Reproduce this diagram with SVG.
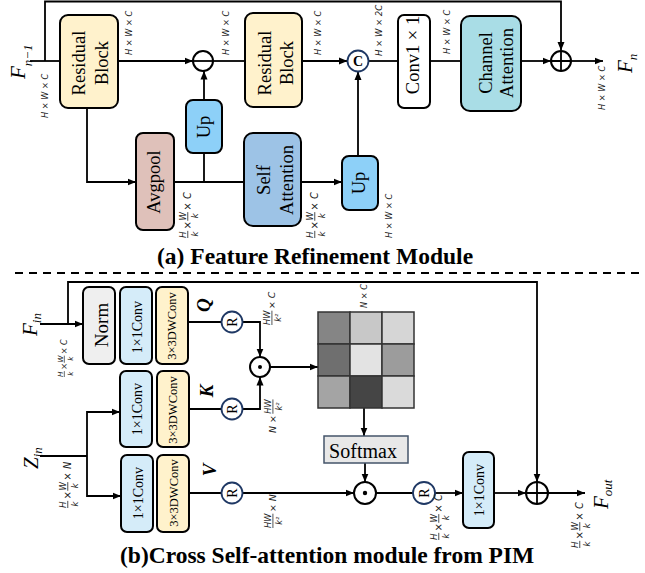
<svg xmlns="http://www.w3.org/2000/svg" width="645" height="573" viewBox="0 0 645 573">
<defs>
<style>
.box{stroke:#000;stroke-width:2}
.ln{fill:none;stroke:#000;stroke-width:1.8}
.arr{marker-end:url(#ah)}
.t{font-family:"Liberation Serif","Times New Roman",serif;fill:#000;text-anchor:middle}
.f18{font-size:18.5px}
.f14{font-size:14px}
.f12{font-size:12.5px}
.dim{font-family:"DejaVu Sans",sans-serif;font-style:italic;font-size:8.5px;fill:#222}
.dimA{font-size:8.2px}
.fs{font-size:7.5px}
.frac{fill:none;stroke:#222;stroke-width:0.7}
.math{font-family:"Liberation Serif","Times New Roman",serif;font-style:italic;font-size:21px;fill:#000}
.sub{font-size:13px}
.op{fill:#fff;stroke:#000;stroke-width:2}
.opb{fill:#fff;stroke:#1F3864;stroke-width:1.8}
.qkv{font-family:"Liberation Serif","Times New Roman",serif;font-style:italic;font-weight:bold;font-size:19px;text-anchor:middle}
.title{font-family:"Liberation Serif","Times New Roman",serif;font-weight:bold;font-size:23.5px}
.cell{stroke:#333;stroke-width:1.5}
</style>
<marker id="ah" markerWidth="10" markerHeight="8" refX="8.5" refY="4" orient="auto" markerUnits="userSpaceOnUse"><path d="M0,0.5L8.5,4L0,7.5z" fill="#000"/></marker>
</defs>
<rect width="645" height="573" fill="#fff"/>

<g id="connectors">
<path class="ln" d="M30,61H60"/>
<path class="ln arr" d="M45,61V1.5H561V50.5"/>
<path class="ln arr" d="M118,61H193"/>
<path class="ln" d="M213,61H245"/>
<path class="ln arr" d="M302,61H347.5"/>
<path class="ln" d="M368.5,61H398"/>
<path class="ln" d="M430,61H461"/>
<path class="ln arr" d="M521,61H551"/>
<path class="ln arr" d="M571,61H603"/>
<path class="ln arr" d="M87,108V182H136"/>
<path class="ln" d="M174,182H244"/>
<path class="ln" d="M204,182V153"/>
<path class="ln arr" d="M204,100V71"/>
<path class="ln arr" d="M301,182H342"/>
<path class="ln arr" d="M358,156V71.5"/>
<path d="M15,273H642" fill="none" stroke="#000" stroke-width="2" stroke-dasharray="8 6"/>
<path class="ln arr" d="M40,324H83"/>
<path class="ln arr" d="M68,324V282H537V482"/>
<path class="ln" d="M188,322H221.5"/>
<path class="ln arr" d="M242.5,322H260V357"/>
<path class="ln" d="M189,409H221.5"/>
<path class="ln arr" d="M242.5,409H260V377"/>
<path class="ln arr" d="M270,367H318"/>
<path class="ln arr" d="M364,408V436"/>
<path class="ln arr" d="M365,463V482"/>
<path class="ln" d="M189,493H221.5"/>
<path class="ln arr" d="M242.5,493H354"/>
<path class="ln" d="M376,493H413"/>
<path class="ln arr" d="M435,493H463"/>
<path class="ln arr" d="M494,493H526"/>
<path class="ln arr" d="M548,493H585"/>
<path class="ln" d="M40,456H87"/>
<path class="ln arr" d="M87,456V412H120"/>
<path class="ln arr" d="M87,456V496H121"/>
</g>

<!-- Top module -->
<g id="rb1"><rect class="box" x="60" y="15" width="58" height="93" rx="8" fill="#FFF2CC"/>
<text class="t f18" x="85" y="63" transform="rotate(-90 85 63)">Residual</text>
<text class="t f18" x="108" y="63" transform="rotate(-90 108 63)">Block</text></g>
<g id="sub"><circle class="op" cx="203" cy="61" r="10" stroke-width="1.5"/><path class="ln" d="M193,61H213" stroke-width="1.5"/></g>
<g id="up1"><rect class="box" x="186" y="100" width="36" height="53" rx="7" fill="#8DD0F8"/>
<text class="t f18" x="210" y="127" transform="rotate(-90 210 127)">Up</text></g>
<g id="avgpool"><rect class="box" x="136" y="133" width="38" height="97" rx="7" fill="#DFC1BA"/>
<text class="t f18" x="160" y="182" transform="rotate(-90 160 182)">Avgpool</text></g>
<g id="selfatt"><rect class="box" x="244" y="133" width="57" height="93" rx="9" fill="#9DC3E6"/>
<text class="t f18" x="270" y="180" transform="rotate(-90 270 180)">Self</text>
<text class="t f18" x="293" y="180" transform="rotate(-90 293 180)">Attention</text></g>
<g id="up2"><rect class="box" x="342" y="156" width="36" height="54" rx="7" fill="#8DD0F8"/>
<text class="t f18" x="365" y="183" transform="rotate(-90 365 183)">Up</text></g>
<g id="rb2"><rect class="box" x="245" y="13" width="57" height="94" rx="8" fill="#FFF2CC"/>
<text class="t f18" x="271" y="63" transform="rotate(-90 271 63)">Residual</text>
<text class="t f18" x="293" y="63" transform="rotate(-90 293 63)">Block</text></g>
<g id="concat"><circle class="opb" cx="358" cy="61" r="10.5" stroke-width="2"/>
<text class="t" x="358" y="66" font-size="14" font-weight="bold" fill="#1F3864">C</text></g>
<g id="conv11"><rect class="box" x="398" y="15" width="32" height="93" rx="6" fill="#fff"/>
<text class="t f18" x="419" y="55" transform="rotate(-90 419 55)">Conv1 × 1</text></g>
<g id="chatt"><rect class="box" x="461" y="16" width="60" height="95" rx="9" fill="#A9DDE6"/>
<text class="t f18" x="492" y="63" transform="rotate(-90 492 63)">Channel</text>
<text class="t f18" x="513" y="63" transform="rotate(-90 513 63)">Attention</text></g>
<g id="add1"><circle class="op" cx="561" cy="61" r="10"/><path class="ln" d="M551,61H571M561,51V71" stroke-width="2"/></g>

<text class="math" transform="translate(25,79) rotate(-90)">F<tspan class="sub" dy="7">n−1</tspan></text>
<text class="math" transform="translate(632,73) rotate(-90)">F<tspan class="sub" dy="5">n</tspan></text>

<text class="dim dimA" transform="translate(48,118) rotate(-90)">H × W × C</text>
<text class="dim dimA" transform="translate(132,55) rotate(-90)">H × W × C</text>
<text class="dim dimA" transform="translate(229,55) rotate(-90)">H × W × C</text>
<text class="dim dimA" transform="translate(321,55) rotate(-90)">H × W × C</text>
<text class="dim" font-size="7.8" transform="translate(382,56) rotate(-90)">H × W × 2C</text>
<text class="dim dimA" transform="translate(450,54) rotate(-90)">H × W × C</text>
<text class="dim dimA" transform="translate(605,110) rotate(-90)">H × W × C</text>
<text class="dim dimA" transform="translate(392,238) rotate(-90)">H × W × C</text>

<g class="dim" transform="translate(191,238) rotate(-90) scale(1.15)"><text class="fs" x="0" y="-4.5">H</text><text class="fs" x="1.3" y="5.8">k</text><path class="frac" d="M0,-2.8H6.2M15,-2.8H22.5"/><text x="7.6" y="0">×</text><text class="fs" x="15.2" y="-4.5">W</text><text class="fs" x="17.2" y="5.8">k</text><text x="24" y="0">× C</text></g>
<g class="dim" transform="translate(318,238) rotate(-90) scale(1.15)"><text class="fs" x="0" y="-4.5">H</text><text class="fs" x="1.3" y="5.8">k</text><path class="frac" d="M0,-2.8H6.2M15,-2.8H22.5"/><text x="7.6" y="0">×</text><text class="fs" x="15.2" y="-4.5">W</text><text class="fs" x="17.2" y="5.8">k</text><text x="24" y="0">× C</text></g>

<text class="title" x="157" y="264">(a) Feature Refinement Module</text>

<!-- Bottom module -->
<g id="norm"><rect class="box" x="83" y="287" width="32" height="77" rx="6" fill="#EFEFEF"/>
<text class="t" font-size="19" x="108" y="325" transform="rotate(-90 108 325)">Norm</text></g>
<g id="qconv"><rect class="box" x="120" y="287" width="32" height="77" rx="6" fill="#D5ECF9"/>
<text class="t f14" x="142" y="327" transform="rotate(-90 142 327)">1×1Conv</text></g>
<g id="qdw"><rect class="box" x="156" y="287" width="32" height="77" rx="6" fill="#FFF2CC"/>
<text class="t f12" x="176" y="326" transform="rotate(-90 176 326)">3×3DWConv</text></g>
<g id="kconv"><rect class="box" x="120" y="371" width="32" height="76" rx="6" fill="#D5ECF9"/>
<text class="t f14" x="142" y="409" transform="rotate(-90 142 409)">1×1Conv</text></g>
<g id="kdw"><rect class="box" x="157" y="371" width="32" height="76" rx="6" fill="#FFF2CC"/>
<text class="t f12" x="177" y="410" transform="rotate(-90 177 410)">3×3DWConv</text></g>
<g id="vconv"><rect class="box" x="121" y="455" width="32" height="77" rx="6" fill="#D5ECF9"/>
<text class="t f14" x="143" y="493" transform="rotate(-90 143 493)">1×1Conv</text></g>
<g id="vdw"><rect class="box" x="157" y="455" width="32" height="77" rx="6" fill="#FFF2CC"/>
<text class="t f12" x="178" y="493" transform="rotate(-90 178 493)">3×3DWConv</text></g>

<text class="qkv" x="210" y="305" transform="rotate(-90 210 305)">Q</text>
<text class="qkv" x="213" y="391" transform="rotate(-90 213 391)">K</text>
<text class="qkv" x="216" y="470" transform="rotate(-90 216 470)">V</text>

<g id="rq"><circle class="opb" cx="232" cy="322" r="10.5"/><text class="t f14" x="236.5" y="322" transform="rotate(-90 236.5 322)">R</text></g>
<g id="rk"><circle class="opb" cx="232" cy="409" r="10.5"/><text class="t f14" x="236.5" y="409" transform="rotate(-90 236.5 409)">R</text></g>
<g id="rv"><circle class="opb" cx="232" cy="493" r="10.5"/><text class="t f14" x="236.5" y="493" transform="rotate(-90 236.5 493)">R</text></g>
<g id="r3"><circle class="opb" cx="424" cy="493" r="11"/><text class="t f14" x="428.5" y="493" transform="rotate(-90 428.5 493)">R</text></g>

<g id="dot1"><circle class="op" cx="260" cy="367" r="10"/><circle cx="260" cy="367" r="2" fill="#000"/></g>
<g id="dot2"><circle class="op" cx="365" cy="493" r="11"/><circle cx="365" cy="493" r="2.2" fill="#000"/></g>

<g id="matrix">
<rect class="cell" x="318" y="312" width="32" height="32" fill="#858585"/>
<rect class="cell" x="350" y="312" width="32" height="32" fill="#C8C8C8"/>
<rect class="cell" x="382" y="312" width="32" height="32" fill="#D6D6D6"/>
<rect class="cell" x="318" y="344" width="32" height="32" fill="#6F6F6F"/>
<rect class="cell" x="350" y="344" width="32" height="32" fill="#E3E3E3"/>
<rect class="cell" x="382" y="344" width="32" height="32" fill="#9C9C9C"/>
<rect class="cell" x="318" y="376" width="32" height="32" fill="#A4A4A4"/>
<rect class="cell" x="350" y="376" width="32" height="32" fill="#454545"/>
<rect class="cell" x="382" y="376" width="32" height="32" fill="#DADADA"/>
</g>
<g id="softmax"><rect x="324" y="436" width="84" height="27" fill="#E8E8E8" stroke="#44546A" stroke-width="1.5"/>
<text class="t" font-size="20" x="363" y="458">Softmax</text></g>

<g id="conv1x1b"><rect class="box" x="463" y="452" width="31" height="76" rx="6" fill="#D5ECF9"/>
<text class="t f14" x="484" y="490" transform="rotate(-90 484 490)">1×1Conv</text></g>
<g id="add2"><circle class="op" cx="537" cy="493" r="11"/><path class="ln" d="M526,493H548M537,482V504" stroke-width="2"/></g>

<text class="math" transform="translate(37,336) rotate(-90)">F<tspan class="sub" dy="4">in</tspan></text>
<text class="math" transform="translate(38,469) rotate(-90)">Z<tspan class="sub" dy="4">in</tspan></text>
<text class="math" transform="translate(608,509) rotate(-90)">F<tspan class="sub" dy="4">out</tspan></text>

<text class="dim dimA" transform="translate(367,308) rotate(-90)">N × C</text>

<g class="dim" transform="translate(67,377) rotate(-90) scale(0.95)"><text class="fs" x="0" y="-4.5">H</text><text class="fs" x="1.3" y="5.8">k</text><path class="frac" d="M0,-2.8H6.2M15,-2.8H22.5"/><text x="7.6" y="0">×</text><text class="fs" x="15.2" y="-4.5">W</text><text class="fs" x="17.2" y="5.8">k</text><text x="24" y="0">× C</text></g>
<g class="dim" transform="translate(71,508) rotate(-90) scale(1.15)"><text class="fs" x="0" y="-4.5">H</text><text class="fs" x="1.3" y="5.8">k</text><path class="frac" d="M0,-2.8H6.2M15,-2.8H22.5"/><text x="7.6" y="0">×</text><text class="fs" x="15.2" y="-4.5">W</text><text class="fs" x="17.2" y="5.8">k</text><text x="24" y="0">× N</text></g>
<g class="dim" transform="translate(442,540) rotate(-90) scale(1.15)"><text class="fs" x="0" y="-4.5">H</text><text class="fs" x="1.3" y="5.8">k</text><path class="frac" d="M0,-2.8H6.2M15,-2.8H22.5"/><text x="7.6" y="0">×</text><text class="fs" x="15.2" y="-4.5">W</text><text class="fs" x="17.2" y="5.8">k</text><text x="24" y="0">× C</text></g>
<g class="dim" transform="translate(583,548) rotate(-90) scale(1.15)"><text class="fs" x="0" y="-4.5">H</text><text class="fs" x="1.3" y="5.8">k</text><path class="frac" d="M0,-2.8H6.2M15,-2.8H22.5"/><text x="7.6" y="0">×</text><text class="fs" x="15.2" y="-4.5">W</text><text class="fs" x="17.2" y="5.8">k</text><text x="24" y="0">× C</text></g>

<g class="dim" transform="translate(275,325) rotate(-90) scale(1.1)"><text class="fs" x="0" y="-4.5">HW</text><path class="frac" d="M0,-2.8H13"/><text class="fs" x="3" y="5.8">k²</text><text x="14.5" y="0">× C</text></g>
<g class="dim" transform="translate(276,433) rotate(-90) scale(1.1)"><text x="0" y="0">N ×</text><text class="fs" x="17.5" y="-4.5">HW</text><path class="frac" d="M17.5,-2.8H30.5"/><text class="fs" x="20.5" y="5.8">k²</text></g>
<g class="dim" transform="translate(276,528) rotate(-90) scale(1.1)"><text class="fs" x="0" y="-4.5">HW</text><path class="frac" d="M0,-2.8H13"/><text class="fs" x="3" y="5.8">k²</text><text x="14.5" y="0">× N</text></g>

<text class="title" x="120" y="563">(b)Cross Self-attention module from PIM</text>
</svg>
